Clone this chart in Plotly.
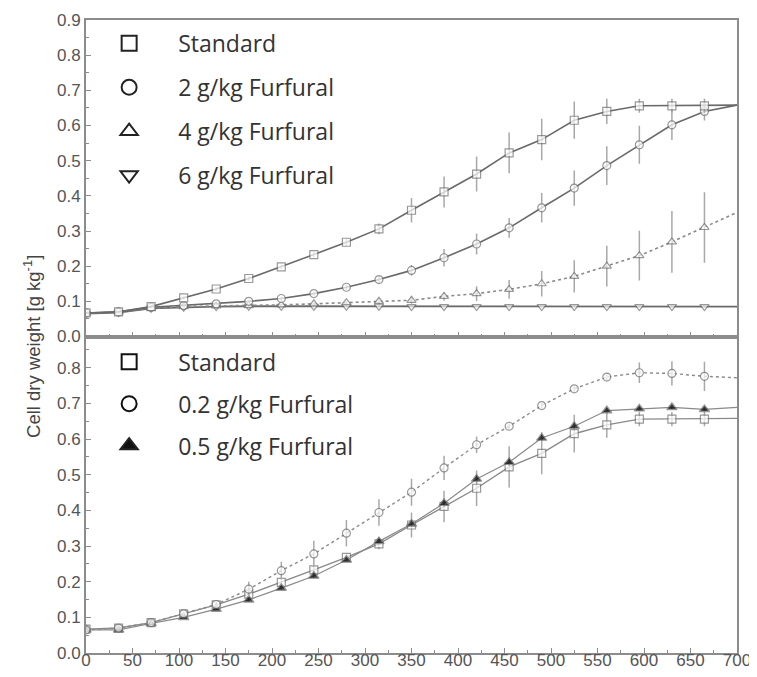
import plotly.graph_objects as go

# ---------------- data ----------------
time_h = [0, 35, 70, 105, 140, 175, 210, 245, 280, 315, 350, 385, 420, 455, 490,
          525, 560, 595, 630, 665, 700]

standard = [0.067, 0.070, 0.085, 0.110, 0.135, 0.165, 0.198, 0.233, 0.268, 0.306, 0.359,
            0.411, 0.462, 0.522, 0.560, 0.615, 0.640, 0.656, 0.656, 0.656, 0.658]
standard_err = [0.005, 0.004, 0.004, 0.005, 0.005, 0.006, 0.006, 0.008, 0.010, 0.015, 0.035,
                0.044, 0.050, 0.058, 0.059, 0.053, 0.036, 0.020, 0.020, 0.020, 0.0]

furf_2 = [0.067, 0.070, 0.083, 0.088, 0.093, 0.100, 0.108, 0.122, 0.140, 0.162, 0.188,
          0.224, 0.263, 0.309, 0.366, 0.422, 0.486, 0.545, 0.602, 0.640, 0.658]
furf_2_err = [0.004, 0.004, 0.004, 0.004, 0.004, 0.005, 0.005, 0.006, 0.008, 0.010, 0.015,
              0.025, 0.030, 0.028, 0.042, 0.050, 0.055, 0.054, 0.043, 0.026, 0.0]

furf_4 = [0.065, 0.070, 0.080, 0.085, 0.087, 0.088, 0.090, 0.093, 0.096, 0.100, 0.103,
          0.114, 0.122, 0.134, 0.150, 0.171, 0.200, 0.230, 0.269, 0.310, 0.353]
furf_4_err = [0.004, 0.004, 0.004, 0.004, 0.004, 0.004, 0.004, 0.005, 0.006, 0.008, 0.010,
              0.012, 0.021, 0.027, 0.036, 0.046, 0.058, 0.071, 0.088, 0.100, 0.0]

furf_6 = [0.065, 0.068, 0.080, 0.083, 0.085, 0.086, 0.086, 0.086, 0.086, 0.086, 0.085,
          0.085, 0.085, 0.085, 0.085, 0.085, 0.085, 0.085, 0.085, 0.085, 0.085]
furf_6_err = [0.004] * 20 + [0.0]

furf_02 = [0.065, 0.070, 0.085, 0.110, 0.136, 0.179, 0.231, 0.278, 0.336, 0.394, 0.451,
           0.519, 0.584, 0.636, 0.694, 0.741, 0.774, 0.786, 0.784, 0.776, 0.772]
furf_02_err = [0.004, 0.004, 0.004, 0.006, 0.008, 0.021, 0.025, 0.037, 0.037, 0.037, 0.038,
               0.034, 0.023, 0.010, 0.008, 0.008, 0.010, 0.029, 0.034, 0.041, 0.0]

furf_05 = [0.065, 0.065, 0.083, 0.100, 0.123, 0.149, 0.182, 0.216, 0.261, 0.313, 0.362,
           0.420, 0.488, 0.535, 0.603, 0.636, 0.680, 0.685, 0.689, 0.683, 0.689]
furf_05_err = [0.004, 0.004, 0.004, 0.004, 0.004, 0.005, 0.005, 0.006, 0.006, 0.008, 0.008,
               0.010, 0.010, 0.010, 0.008, 0.008, 0.008, 0.006, 0.006, 0.006, 0.0]

top_names = ["Standard", "2 g/kg Furfural", "4 g/kg Furfural", "6 g/kg Furfural"]
bottom_names = ["Standard", "0.2 g/kg Furfural", "0.5 g/kg Furfural"]
y_title = "Cell dry weight [g kg<sup>-1</sup>]"

# ---------------- style ----------------
LINE_TOP = "#6a6a6a"
LINE_BOT = "#8a8a8a"
MK = "#6f6f6f"
ERR = "#a8a8a8"
AX = "#8c8c8c"
TICKFONT = dict(family="Liberation Sans, Arial", size=17, color="#555555")
LEGFONT = dict(family="Open Sans", size=23, color="#333333")

fig = go.Figure()

n = len(time_h)


def add_series(y, err, symbol, dash, fill, xa, ya, color, width=1.6, size=8):
    fig.add_trace(go.Scatter(
        x=time_h, y=y, mode="lines+markers", xaxis=xa, yaxis=ya,
        line=dict(color=color, width=width, dash=dash),
        marker=dict(symbol=symbol, size=[size] * (n - 1) + [0], color=fill,
                    line=dict(color=MK, width=1.2)),
        error_y=dict(type="data", array=err, visible=True, color=ERR,
                     thickness=1.5, width=0),
        showlegend=False, hoverinfo="skip"))


# top panel
add_series(furf_6, furf_6_err, "triangle-down", "solid", "white", "x", "y", LINE_TOP, 1.8)
add_series(furf_4, furf_4_err, "triangle-up", "dot", "white", "x", "y", LINE_BOT, 1.6)
add_series(furf_2, furf_2_err, "circle", "solid", "white", "x", "y", LINE_TOP, 1.6)
add_series(standard, standard_err, "square", "solid", "white", "x", "y", LINE_TOP, 1.6)

# bottom panel
add_series(standard, standard_err, "square", "solid", "white", "x2", "y2", LINE_BOT, 1.4)
add_series(furf_05, furf_05_err, "triangle-up", "solid", "black", "x2", "y2", LINE_BOT, 1.2, 9)
add_series(furf_02, furf_02_err, "circle", "dot", "white", "x2", "y2", LINE_BOT, 1.4)

# legend entries
top_syms = ["square-open", "circle-open", "triangle-up-open", "triangle-down-open"]
for name, sym in zip(top_names, top_syms):
    fig.add_trace(go.Scatter(
        x=[None], y=[None], mode="markers", name=name, legend="legend",
        legendgroup="t" + name,
        marker=dict(symbol=sym, size=15, color="#222222", line=dict(width=2, color="#222222"))))

bot_syms = ["square-open", "circle-open", "triangle-up"]
for name, sym in zip(bottom_names, bot_syms):
    fig.add_trace(go.Scatter(
        x=[None], y=[None], mode="markers", name=name, legend="legend2",
        legendgroup="b" + name,
        marker=dict(symbol=sym, size=15, color="#111111", line=dict(width=2, color="#222222"))))

axis_common = dict(showline=True, linecolor=AX, linewidth=1.8, mirror=True,
                   ticks="inside", ticklen=5, tickcolor=AX, tickwidth=1,
                   showgrid=False, zeroline=False, tickfont=TICKFONT, automargin=False)
minor_x = dict(ticks="inside", ticklen=3, dtick=25, tickcolor=AX)
minor_y = dict(ticks="inside", ticklen=3, dtick=0.05, tickcolor=AX)

fig.update_layout(
    width=749, height=661,
    margin=dict(l=78, r=20, t=12, b=16),
    paper_bgcolor="white", plot_bgcolor="white",
    xaxis=dict(domain=[0, 1], range=[0, 700], dtick=50, showticklabels=False,
               anchor="y", matches="x2", minor=minor_x, **axis_common),
    yaxis=dict(domain=[0.5, 1], range=[0, 0.9], dtick=0.1, tickformat=".1f",
               anchor="x", minor=minor_y, **axis_common),
    xaxis2=dict(domain=[0, 1], range=[0, 700], dtick=50, anchor="y2",
                ticklabelstandoff=-9, minor=minor_x, **axis_common),
    yaxis2=dict(domain=[0, 0.4985], range=[0, 0.885],
                tickvals=[0, 0.1, 0.2, 0.3, 0.4, 0.5, 0.6, 0.7, 0.8],
                tickformat=".1f", anchor="x2", minor=minor_y, **axis_common),
    legend=dict(x=-0.009, y=0.997, xanchor="left", yanchor="top", font=LEGFONT,
                bgcolor="rgba(0,0,0,0)", itemwidth=88, tracegroupgap=11,
                itemclick=False, itemdoubleclick=False),
    legend2=dict(x=-0.009, y=0.494, xanchor="left", yanchor="top", font=LEGFONT,
                 bgcolor="rgba(0,0,0,0)", itemwidth=88, tracegroupgap=9,
                 itemclick=False, itemdoubleclick=False),
    annotations=[dict(text=y_title, textangle=-90,
                      xref="paper", yref="paper", x=-0.083, y=0.485,
                      xanchor="center", yanchor="middle", showarrow=False,
                      font=dict(family="Liberation Sans, Arial", size=18.5, color="#444444"))],
)

fig.write_html("out.html")
